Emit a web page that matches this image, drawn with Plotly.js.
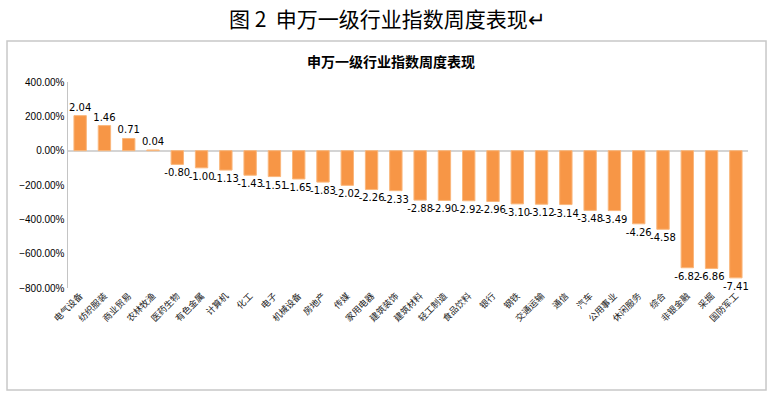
<!DOCTYPE html>
<html>
<head>
<meta charset="utf-8">
<script src="https://cdn.plot.ly/plotly-3.0.1.min.js"></script>
<style>html,body{margin:0;padding:0;background:#fff;}#chart{width:773px;height:396px;}</style>
</head>
<body>
<div id="chart"></div>
<script>
const categories = ["电气设备","纺织服装","商业贸易","农林牧渔","医药生物","有色金属","计算机","化工","电子","机械设备","房地产","传媒","家用电器","建筑装饰","建筑材料","轻工制造","食品饮料","银行","钢铁","交通运输","通信","汽车","公用事业","休闲服务","综合","非银金融","采掘","国防军工"];
const values = [2.04,1.46,0.71,0.04,-0.80,-1.00,-1.13,-1.43,-1.51,-1.65,-1.83,-2.02,-2.26,-2.33,-2.88,-2.90,-2.92,-2.96,-3.10,-3.12,-3.14,-3.48,-3.49,-4.26,-4.58,-6.82,-6.86,-7.41];
const figureTitle = "图 2  申万一级行业指数周度表现↵";
const chartTitle = "申万一级行业指数周度表现";

const trace = {
  type: 'bar',
  x: categories,
  y: values,
  marker: {color: '#F79646', line: {color: '#FAB77C', width: 1}},
  texttemplate: '%{y:.2f}',
  textposition: 'outside',
  constraintext: 'none',
  cliponaxis: false,
  textfont: {family: 'DejaVu Sans, sans-serif', size: 10, color: '#000'},
  hoverinfo: 'none'
};

const layout = {
  width: 773, height: 396,
  margin: {l: 68, r: 25, t: 82, b: 108},
  paper_bgcolor: '#fff', plot_bgcolor: '#fff',
  showlegend: false,
  bargap: 0.49,
  xaxis: {
    type: 'category',
    tickangle: -45,
    showline: false, showgrid: false, zeroline: false,
    ticks: '',
    tickfont: {family: 'Noto Sans CJK SC, sans-serif', size: 9, color: '#222'}
  },
  yaxis: {
    range: [-8, 4],
    dtick: 2,
    tickformat: '.2%',
    showgrid: false,
    showline: true, linecolor: '#c4c4c4', linewidth: 1.5,
    zeroline: true, zerolinecolor: '#d4d4d4', zerolinewidth: 2,
    ticks: '',
    tickfont: {family: 'Liberation Sans, Arial, sans-serif', size: 10, color: '#000'}
  },
  shapes: [{
    type: 'rect', xref: 'paper', yref: 'paper',
    x0: -0.0897, x1: 1.0265, y0: -0.495, y1: 1.199,
    line: {color: '#c8c8c8', width: 1.5}, fillcolor: 'rgba(0,0,0,0)', layer: 'below'
  }],
  annotations: [
    {text: figureTitle, xref: 'paper', yref: 'paper', x: 0.47, y: 1.311, xanchor: 'center', yanchor: 'middle',
     showarrow: false, font: {family: 'Noto Sans CJK SC, sans-serif', size: 21, color: '#000'}},
    {text: '<b>' + chartTitle + '</b>', xref: 'paper', yref: 'paper', x: 0.475, y: 1.102, xanchor: 'center', yanchor: 'middle',
     showarrow: false, font: {family: 'Noto Sans CJK SC, sans-serif', size: 14, color: '#000'}}
  ]
};

Plotly.newPlot('chart', [trace], layout, {displayModeBar: false, staticPlot: true});
</script>
</body>
</html>
